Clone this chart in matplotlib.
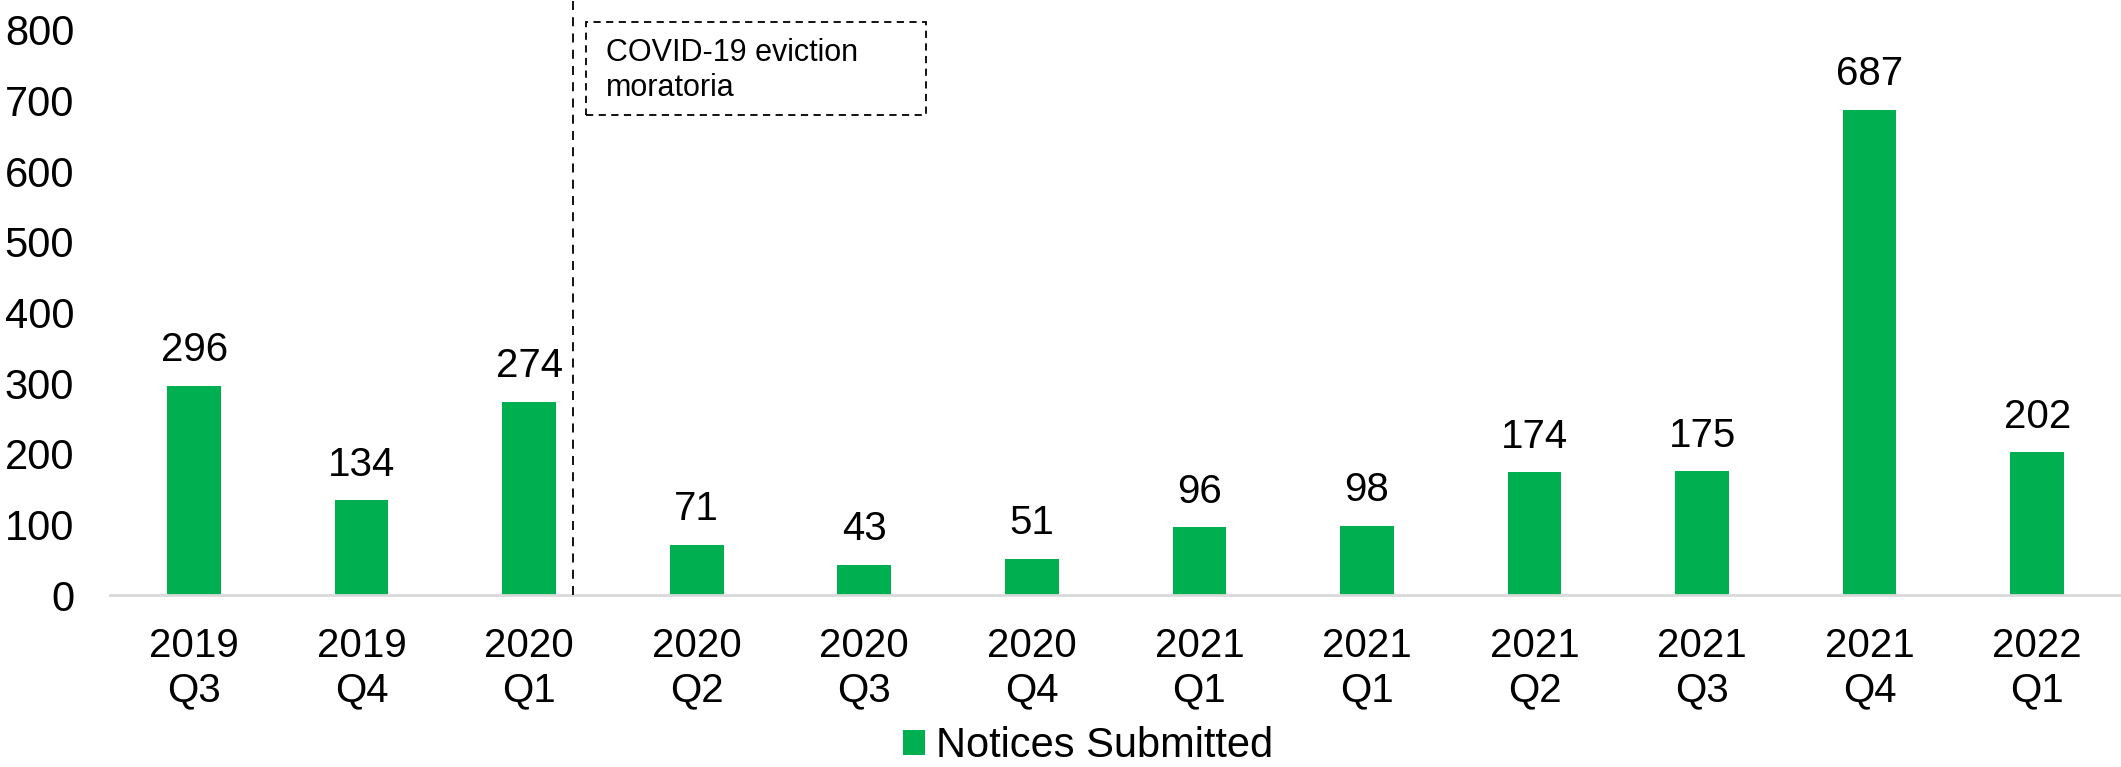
import numpy as np
import matplotlib.pyplot as plt
from matplotlib.patches import Rectangle

# données du graphique
quarters = ["2019\nQ3", "2019\nQ4", "2020\nQ1", "2020\nQ2", "2020\nQ3", "2020\nQ4",
            "2021\nQ1", "2021\nQ1", "2021\nQ2", "2021\nQ3", "2021\nQ4", "2022\nQ1"]
notices = [296, 134, 274, 71, 43, 51, 96, 98, 174, 175, 687, 202]
yticks = [0, 100, 200, 300, 400, 500, 600, 700, 800]
series_name = "Notices Submitted"
box_text = "COVID-19 eviction\nmoratoria"

green = "#00B050"
plt.rcParams['font.family'] = ['Liberation Sans', 'DejaVu Sans']

fig = plt.figure(figsize=(21.21, 7.67), dpi=100)
ax = fig.add_axes([0.052, 0.224, 0.948, 0.776])

x = np.arange(len(quarters))
bars = ax.bar(x, notices, width=0.32, color=green, label=series_name, zorder=2)

# étiquettes de valeur
for xi, v in zip(x, notices):
    ax.annotate(str(v), (xi, v), xytext=(0, 12), textcoords="offset points",
                ha="center", va="bottom", fontsize=29)

ax.set_xlim(-0.5, len(quarters) - 0.5)
ax.set_ylim(0, 842)
ax.set_yticks(yticks)
ax.set_xticks(x)
ax.set_xticklabels(quarters, fontsize=29, linespacing=1.2)
ax.tick_params(axis="y", labelsize=30, length=0, pad=26)
ax.tick_params(axis="x", length=0, pad=23)

for side in ["top", "right", "left"]:
    ax.spines[side].set_visible(False)
ax.spines["bottom"].set_color("#d9d9d9")
ax.spines["bottom"].set_linewidth(2)

# ligne du moratoire
ax.plot([2.26, 2.26], [0, 842], color="black", linestyle=(0, (5, 4)), linewidth=1.3,
        clip_on=False, zorder=3)
ax.add_patch(Rectangle((2.34, 679), 2.03, 132, fill=False, edgecolor="black",
                       linestyle=(0, (4, 3)), linewidth=1.3, zorder=3))
ax.text(2.46, 742, box_text, fontsize=22, va="center", ha="left", linespacing=1.2)

fig.legend(handles=[bars], labels=[series_name], loc="center", bbox_to_anchor=(0.513, 0.027),
           frameon=False, fontsize=30, handlelength=0.53, handleheight=0.53, handletextpad=0.25)

fig.savefig("out.png", dpi=100)
